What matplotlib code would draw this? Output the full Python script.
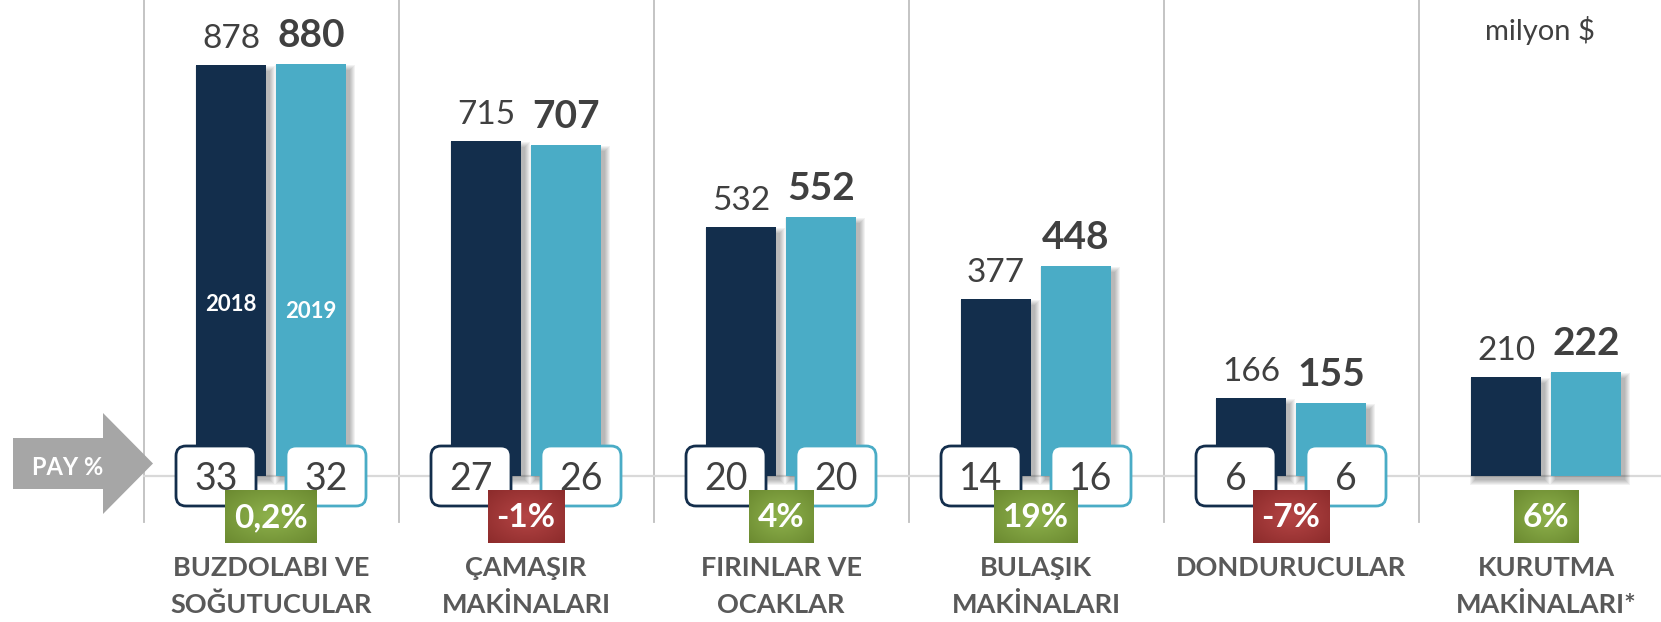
import numpy as np
import matplotlib
matplotlib.use("Agg")
import matplotlib.pyplot as plt
from matplotlib.patches import FancyBboxPatch, Rectangle, Polygon

plt.rcParams['font.family'] = ['Lato', 'DejaVu Sans']

# data
categories = ["BUZDOLABI VE\nSOĞUTUCULAR", "ÇAMAŞIR\nMAKİNALARI", "FIRINLAR VE\nOCAKLAR",
              "BULAŞIK\nMAKİNALARI", "DONDURUCULAR", "KURUTMA\nMAKİNALARI*"]
series = ["2018", "2019"]
val_2018 = [878, 715, 532, 377, 166, 210]
val_2019 = [880, 707, 552, 448, 155, 222]
pay_2018 = [33, 27, 20, 14, 6, None]
pay_2019 = [32, 26, 20, 16, 6, None]
growth = ["0,2%", "-1%", "4%", "19%", "-7%", "6%"]

DARK = "#132e4c"
LIGHT = "#4aacc6"
GRAY_TXT = "#404040"
CAT_TXT = "#595959"

W, H = 1661, 622
X0, XS = 271.0, 255.0      # pixel of first group centre, pixels per group
Y0, YS = 475.6, 0.468      # pixel row of baseline, pixels per value unit

def px_x(p):
    return (p - X0) / XS

def px_y(p):
    return (Y0 - p) / YS

def dx(p):
    return p / XS

def dy(p):
    return p / YS

fig = plt.figure(figsize=(W / 100, H / 100), dpi=100)
ax = fig.add_axes([0, 0, 1, 1])
ax.axis("off")

x = np.arange(len(categories))
off = 0.157
bw = 0.274

# separators and baseline
for i in range(len(categories)):
    ax.plot([i - 0.5, i - 0.5], [px_y(522), px_y(0)], color="#bfbfbf", lw=1.3, zorder=1)
ax.plot([-0.5, px_x(W)], [0, 0], color="#d9d9d9", lw=1.6, zorder=1)

# bar shadows
for vals, sign in ((val_2018, -1), (val_2019, 1)):
    for i, v in enumerate(vals):
        xc = i + sign * off
        for k in range(6):
            ax.add_patch(Rectangle((xc - bw / 2 + dx(4) - dx(k), -dy(4) - dy(k)),
                                   bw + dx(2 * k), v + dy(2 * k) - dy(2),
                                   facecolor="black", alpha=0.05, lw=0, zorder=2))

ax.bar(x - off, val_2018, bw, color=DARK, zorder=3)
ax.bar(x + off, val_2019, bw, color=LIGHT, zorder=3)

# value labels
for i in range(len(categories)):
    ax.text(i - off, val_2018[i] + dy(17), str(val_2018[i]), ha="center", va="baseline",
            fontsize=24, color=GRAY_TXT, zorder=6)
    ax.text(i + off, val_2019[i] + dy(17), str(val_2019[i]), ha="center", va="baseline",
            fontsize=28, fontweight="bold", color=GRAY_TXT, zorder=6)

# series names inside first pair of bars
ax.text(0 - off, px_y(304), series[0], ha="center", va="center", fontsize=16,
        fontweight="bold", color="white", zorder=6)
ax.text(0 + off, px_y(311), series[1], ha="center", va="center", fontsize=16,
        fontweight="bold", color="white", zorder=6)

# share boxes
bx_w, bx_h = dx(80), dy(60)
for pays, sign, col in ((pay_2018, -1, DARK), (pay_2019, 1, LIGHT)):
    for i, p in enumerate(pays):
        if p is None:
            continue
        xc = i + sign * dx(55)
        box = FancyBboxPatch((xc - bx_w / 2, px_y(506)), bx_w, bx_h,
                             boxstyle="round,pad=0,rounding_size=%f" % dx(10),
                             mutation_aspect=XS / YS,
                             facecolor="white", edgecolor=col, lw=2, zorder=5)
        ax.add_patch(box)
        ax.text(xc, px_y(490), str(p), ha="center", va="baseline", fontsize=27,
                color=GRAY_TXT, zorder=6)

# growth labels
gtexts = []
for i, g in enumerate(growth):
    t = ax.text(i, px_y(527), g, ha="center", va="baseline", fontsize=24,
                fontweight="bold", color="white", zorder=9)
    gtexts.append(t)

# category labels
for i, c in enumerate(categories):
    for j, line in enumerate(c.split("\n")):
        ax.text(i, px_y(576 + 37 * j), line, ha="center", va="baseline", fontsize=19.5,
                fontweight="bold", color=CAT_TXT, zorder=6)

# PAY % arrow
arrow = [(13, 438), (103, 438), (103, 413), (153, 463.5), (103, 514), (103, 489), (13, 489)]
ax.add_patch(Polygon([(px_x(a), px_y(b)) for a, b in arrow], closed=True,
                     facecolor="#a6a6a6", edgecolor="none", zorder=4))
ax.text(px_x(68), px_y(475), "PAY %", ha="center", va="baseline", fontsize=17,
        fontweight="bold", color="white", zorder=6)

ax.text(px_x(1540), px_y(30), "milyon $", ha="center", va="center", fontsize=21,
        color=GRAY_TXT, zorder=6)

ax.set_xlim(px_x(0), px_x(W))
ax.set_ylim(px_y(H), px_y(0))

# gradient boxes behind growth labels
fig.canvas.draw()
r = fig.canvas.get_renderer()
u, v = np.meshgrid(np.linspace(-1, 1, 60), np.linspace(-1, 1, 60))
rad = np.clip(np.sqrt(u ** 2 + v ** 2) / np.sqrt(2), 0, 1)[..., None]
green_c, green_e = np.array([0.56, 0.70, 0.30]), np.array([0.42, 0.54, 0.19])
red_c, red_e = np.array([0.71, 0.27, 0.27]), np.array([0.55, 0.17, 0.17])
for i, t in enumerate(gtexts):
    bb = t.get_window_extent(renderer=r)
    w = bb.width + 18
    if growth[i].startswith("-"):
        img = red_c * (1 - rad) + red_e * rad
    else:
        img = green_c * (1 - rad) + green_e * rad
    ax.imshow(img, extent=[i - dx(w / 2), i + dx(w / 2), px_y(543), px_y(490)],
              aspect="auto", interpolation="bilinear", zorder=8)

ax.set_xlim(px_x(0), px_x(W))
ax.set_ylim(px_y(H), px_y(0))

fig.savefig("out.png", dpi=100)
